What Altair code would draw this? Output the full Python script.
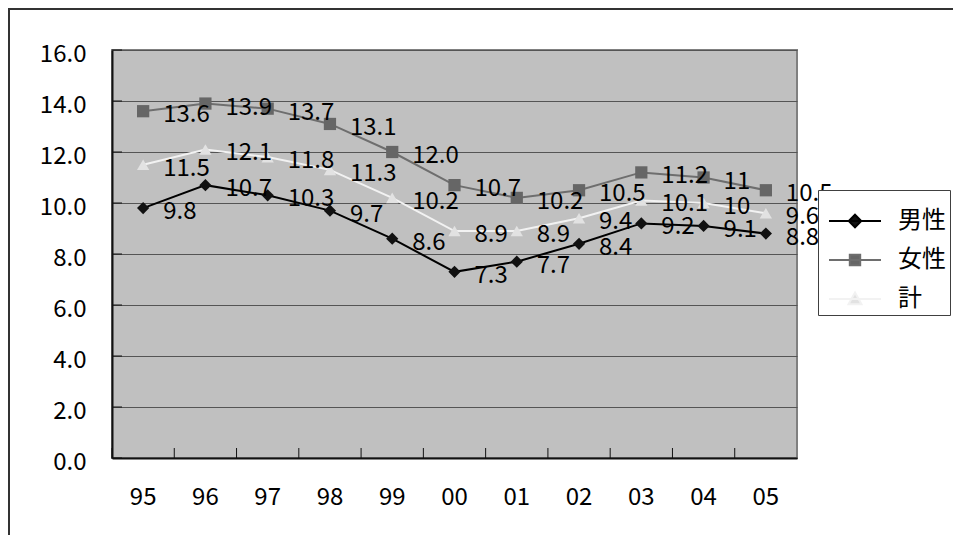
import altair as alt
import pandas as pd

# Rates by year (two-digit fiscal year labels)
years = ["95", "96", "97", "98", "99", "00", "01", "02", "03", "04", "05"]
series = ["男性", "女性", "計"]

# Values kept as the printed label strings; the plotted value is parsed from them
male = ["9.8", "10.7", "10.3", "9.7", "8.6", "7.3", "7.7", "8.4", "9.2", "9.1", "8.8"]
female = ["13.6", "13.9", "13.7", "13.1", "12.0", "10.7", "10.2", "10.5", "11.2", "11", "10.5"]
total = ["11.5", "12.1", "11.8", "11.3", "10.2", "8.9", "8.9", "9.4", "10.1", "10", "9.6"]

y_ticks = [0, 2, 4, 6, 8, 10, 12, 14, 16]

# Styling per series
line_colors = ["#000000", "#6e6e6e", "#f2f2f2"]
fill_colors = ["#111111", "#666666", "#e2e2e2"]
point_shapes = ["diamond", "square", "triangle-up"]
# Legend symbols: a short line sample with the marker in the middle
legend_shapes = [
    "M-1,0H1M0,-0.24L0.24,0L0,0.24L-0.24,0Z",
    "M-1,0H1M-0.2,-0.2H0.2V0.2H-0.2Z",
    "M-1,0H1M0,-0.25L0.25,0.2H-0.25Z",
]

rows = []
for name, vals in zip(series, [male, female, total]):
    for yr, v in zip(years, vals):
        rows.append({"year": yr, "series": name, "value": float(v), "label": v})
df = pd.DataFrame(rows)

FONT = "Noto Sans CJK JP"
W, H = 685, 408

x_enc = alt.X(
    "year:N",
    sort=years,
    scale=alt.Scale(type="band", paddingInner=0, paddingOuter=0),
    bandPosition=0.5,
    axis=alt.Axis(
        title=None, labelAngle=0, ticks=False, labelPadding=27,
        domainColor="#111111", domainWidth=2, grid=False,
    ),
)
y_enc = alt.Y(
    "value:Q",
    scale=alt.Scale(domain=[0, 16], nice=False, zero=True),
    axis=alt.Axis(
        title=None, values=y_ticks, format=".1f", ticks=False, labelPadding=26,
        labelOffset=4, domainColor="#111111", domainWidth=2,
        gridColor="#555555", gridWidth=1,
    ),
)

base = alt.Chart(df)

lines = base.mark_line(strokeWidth=2).encode(
    x=x_enc,
    y=y_enc,
    stroke=alt.Stroke("series:N", scale=alt.Scale(domain=series, range=line_colors), legend=None),
    detail="series:N",
)

points = base.mark_point(filled=True, size=150, opacity=1).encode(
    x=x_enc,
    y=y_enc,
    fill=alt.Fill("series:N", scale=alt.Scale(domain=series, range=fill_colors), legend=None),
    shape=alt.Shape("series:N", scale=alt.Scale(domain=series, range=point_shapes), legend=None),
)

labels = base.mark_text(
    align="left", baseline="middle", dx=20, dy=4, fontSize=24, font=FONT, color="#000000"
).encode(x=x_enc, y=y_enc, text="label:N")

# Inward tick marks on the category axis (at band boundaries)
xticks = alt.Chart(pd.DataFrame({"year": years})).mark_rule(color="#111111", strokeWidth=1).encode(
    x=alt.X("year:N", sort=years, bandPosition=0),
    y=alt.value(H - 10),
    y2=alt.value(H),
)

# Inward tick marks on the value axis
yticks = alt.Chart(pd.DataFrame({"value": y_ticks})).mark_rule(color="#111111", strokeWidth=1).encode(
    y=alt.Y("value:Q"),
    x=alt.value(0),
    x2=alt.value(10),
)

# Legend-only layer: no rows drawn, symbols come from the explicit scale domains
legend_layer = base.transform_filter("false").mark_point(filled=True, size=2704, opacity=1).encode(
    x=x_enc,
    y=y_enc,
    fill=alt.Fill("series:N", scale=alt.Scale(domain=series, range=fill_colors)),
    stroke=alt.Stroke("series:N", scale=alt.Scale(domain=series, range=line_colors)),
    shape=alt.Shape(
        "series:N",
        scale=alt.Scale(domain=series, range=legend_shapes),
        legend=alt.Legend(
            title=None, orient="none", legendX=706, legendY=140,
            symbolSize=2704, symbolStrokeWidth=2, symbolOffset=6, labelOffset=16,
            labelFontSize=24, labelFont=FONT, labelColor="#000000",
            padding=4, rowPadding=0, strokeColor="#404040", fillColor="#ffffff",
        ),
    ),
)

# Chart-area border
frame = alt.Chart(alt.Data(values=[{}])).mark_rect(
    fill=None, fillOpacity=0, stroke="#333333", strokeWidth=2
).encode(
    x=alt.value(-103), y=alt.value(-41), x2=alt.value(900), y2=alt.value(600)
)

chart = (
    alt.layer(frame, lines, points, xticks, yticks, labels, legend_layer)
    .resolve_scale(fill="independent", stroke="independent", shape="independent")
    .properties(
        width=W,
        height=H,
        autosize=alt.AutoSizeParams(type="none"),
        padding={"left": 112, "top": 50, "right": 156, "bottom": 77},
        background="#ffffff",
    )
    .configure_view(fill="#c0c0c0", stroke="#808080", strokeWidth=2)
    .configure_axis(labelFont=FONT, labelFontSize=24, labelColor="#000000")
    .configure_legend(labelFont=FONT)
)

chart.save("out.html", embed_options={"renderer": "svg", "actions": False})
